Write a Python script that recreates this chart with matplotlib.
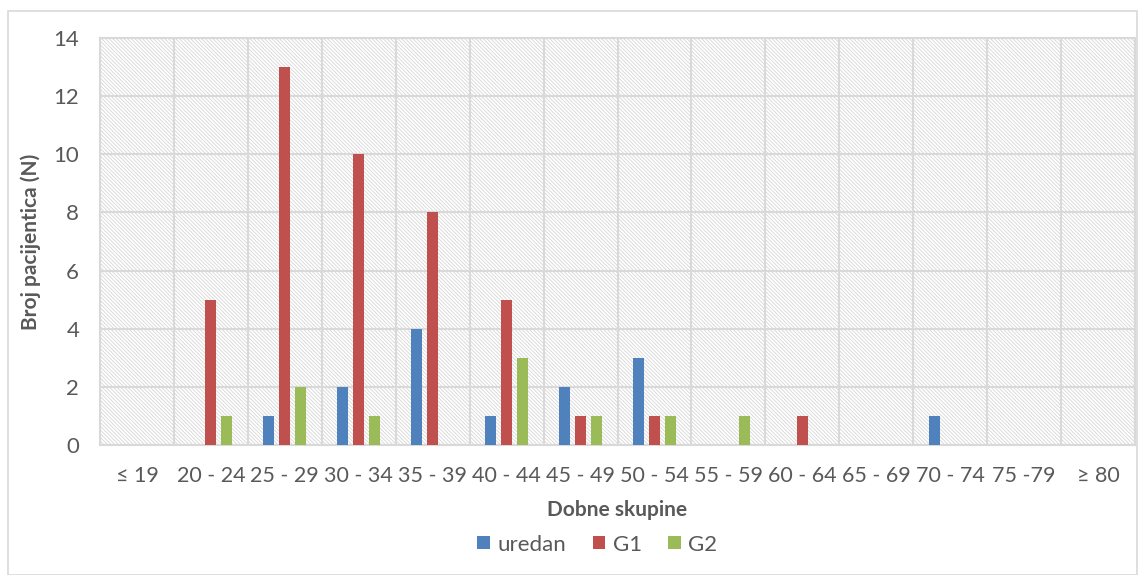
import numpy as np
import matplotlib
matplotlib.use("Agg")
import matplotlib.pyplot as plt
from matplotlib.patches import Rectangle

# Data
categories = ["≤ 19", "20 - 24", "25 - 29", "30 - 34", "35 - 39", "40 - 44", "45 - 49",
              "50 - 54", "55 - 59", "60 - 64", "65 - 69", "70 - 74", "75 -79", "≥ 80"]
uredan = [0, 0, 1, 2, 4, 1, 2, 3, 0, 0, 0, 1, 0, 0]
g1 = [0, 5, 13, 10, 8, 5, 1, 1, 0, 1, 0, 0, 0, 0]
g2 = [0, 1, 2, 1, 0, 3, 1, 1, 1, 0, 0, 0, 0, 0]

plt.rcParams['font.family'] = ['Lato', 'DejaVu Sans']
plt.rcParams['hatch.linewidth'] = 0.6
txt = '#595959'
grid = '#D9D9D9'

fig = plt.figure(figsize=(11.38, 5.75), dpi=100)
ax = fig.add_axes([0.0879, 0.226, 0.9095, 0.708])

# outer chart border
fig.patches.append(Rectangle((0.007, 0.0), 0.992, 0.981, transform=fig.transFigure,
                             fill=False, edgecolor=grid, linewidth=1.2))

n = len(categories)
ax.set_xlim(0, n)
ax.set_ylim(0, 14)

# hatched plot background
ax.add_patch(Rectangle((0, 0), n, 14, facecolor='white', edgecolor='#D6D6D6',
                       hatch='\\' * 9, linewidth=0, zorder=0))

x = np.arange(n) + 0.5
w = 0.15
off = 0.216
ax.bar(x - off, uredan, w, color='#4F81BD', label='uredan', zorder=3)
ax.bar(x, g1, w, color='#C0504D', label='G1', zorder=3)
ax.bar(x + off, g2, w, color='#9BBB59', label='G2', zorder=3)

ax.set_yticks(range(0, 15, 2))
ax.set_xticks(x)
ax.set_xticklabels(categories)
ax.set_xticks(np.arange(0, n + 1), minor=True)
ax.grid(True, which='major', axis='y', color=grid, linewidth=1.5, zorder=1)
ax.grid(True, which='minor', axis='x', color=grid, linewidth=1.5, zorder=1)
ax.tick_params(which='both', length=0)
ax.tick_params(axis='y', labelsize=16, labelcolor=txt, pad=15)
ax.tick_params(axis='x', labelsize=15.5, labelcolor=txt, pad=15)
for s in ax.spines.values():
    s.set_color(grid)
    s.set_linewidth(1.5)

ax.set_xlabel('Dobne skupine', fontsize=15, fontweight='bold', color=txt, labelpad=10)
ax.set_ylabel('Broj pacijentica (N)', fontsize=15, fontweight='bold', color=txt, labelpad=9)

leg = fig.legend(loc='center', bbox_to_anchor=(0.525, 0.053), ncol=3, frameon=False,
                 fontsize=16, handlelength=0.55, handleheight=0.55, handletextpad=0.35,
                 columnspacing=1.2)
for t in leg.get_texts():
    t.set_color(txt)

fig.savefig('out.png', dpi=100)
